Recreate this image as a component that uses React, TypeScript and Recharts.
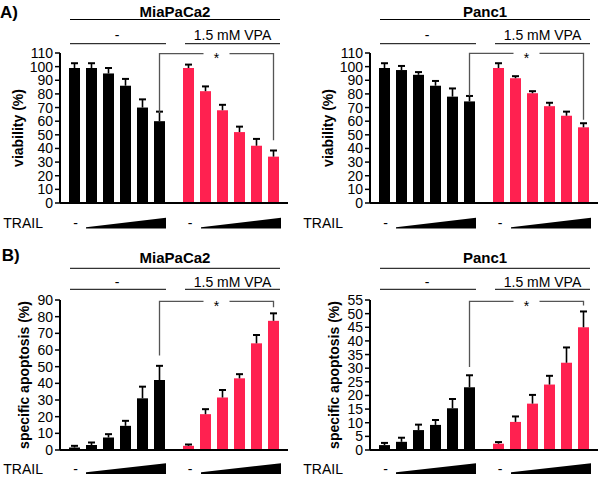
import React from 'react';
import { BarChart, Bar, XAxis, YAxis } from 'recharts';

// ---------- data ----------
const groups = ['-', '1.5 mM VPA'];
const doseIdx = [0, 1, 2, 3, 4, 5];

const miaViabilityCtrl = [99, 99, 95, 86, 70, 60];
const miaViabilityCtrlErr = [3.5, 3.5, 4, 5, 6, 7];
const miaViabilityVpa = [99, 82, 68, 52, 42, 34];
const miaViabilityVpaErr = [2.5, 3.5, 4, 4, 5, 4.5];

const pancViabilityCtrl = [99, 97.5, 94, 86, 78, 74.5];
const pancViabilityCtrlErr = [3.5, 3, 2, 3.5, 6, 4];
const pancViabilityVpa = [99, 91.5, 80.5, 71, 64, 55.5];
const pancViabilityVpaErr = [3.5, 1.5, 1.5, 2.5, 3, 3];

const miaApoptosisCtrl = [1.5, 3, 7.5, 14.5, 31, 42];
const miaApoptosisCtrlErr = [1, 1.5, 2, 3, 7, 8.5];
const miaApoptosisVpa = [2.5, 21.5, 31.5, 43, 64, 77.5];
const miaApoptosisVpaErr = [0.8, 3, 4.5, 2.5, 5, 4.5];

const pancApoptosisCtrl = [1.8, 3, 7.3, 9.2, 15.3, 23];
const pancApoptosisCtrlErr = [0.8, 1.5, 2, 1.8, 3.4, 4.4];
const pancApoptosisVpa = [2.3, 10.3, 17, 24, 32, 45];
const pancApoptosisVpaErr = [0.6, 2, 3.2, 3.2, 5.6, 5.8];

const viabilityTicks = [0, 10, 20, 30, 40, 50, 60, 70, 80, 90, 100, 110];
const miaApoptosisTicks = [0, 10, 20, 30, 40, 50, 60, 70, 80, 90];
const pancApoptosisTicks = [0, 5, 10, 15, 20, 25, 30, 35, 40, 45, 50, 55];

// significance bracket: [horizontal level, left end, right end]
const miaViabilityBracket = [109.5, 66, 46];
const pancViabilityBracket = [109.7, 78.7, 61];
const miaApoptosisBracket = [89.2, 56.7, 85.6];
const pancApoptosisBracket = [54.5, 30.4, 53];

// ---------- style ----------
const RED = '#ff2150';
const FONT = '"Liberation Sans", Arial, sans-serif';
const CH_W = 290;
const CH_H = 240;
const PLOT_L = 60;
const PLOT_R = 288;
const PLOT_T = 53;
const PLOT_B = 203;
const CAT_GAP = 9;
const BAR_GAP = 6;
const BAR_SIZE = (((PLOT_R - PLOT_L) / 2 - 2 * CAT_GAP - 5 * BAR_GAP) / 6) | 0;

function buildRows(ctrl: number[], ctrlErr: number[], vpa: number[], vpaErr: number[]) {
  return groups.map((g, gi) => {
    const row: any = { group: g, gi };
    const vals = gi === 0 ? ctrl : vpa;
    const errs = gi === 0 ? ctrlErr : vpaErr;
    doseIdx.forEach((i) => {
      row['v' + i] = vals[i];
      row['e' + i] = errs[i];
    });
    return row;
  });
}

const makeShape = (i: number) => (props: any) => {
  const { x, y, width, height, payload } = props;
  const value = payload['v' + i];
  const err = payload['e' + i];
  const ppu = value ? height / value : 0;
  const errPx = err * ppu;
  const cx = x + width / 2;
  const fill = payload.gi === 0 ? '#000' : RED;
  return (
    <g>
      <rect x={x} y={y} width={width} height={height} fill={fill} />
      <line x1={cx} x2={cx} y1={y} y2={y - errPx} stroke="#000" strokeWidth={1.6} />
      <line x1={cx - 3.5} x2={cx + 3.5} y1={y - errPx} y2={y - errPx} stroke="#000" strokeWidth={2} />
    </g>
  );
};

const rowA = { titleY: 11, titleLineY: 19.5, subY: 34.5, subLineY: 43.7, trailY: 222.7, tip: 227.3, wTop: 217.7, wBot: 228.5 };
const rowB = { titleY: 10.5, titleLineY: 21.3, subY: 34.7, subLineY: 42.3, trailY: 221.7, tip: 225.3, wTop: 216.3, wBot: 227 };

const panels = [
  { key: 'am', ox: 0, oy: 0, title: 'MiaPaCa2', yLabel: 'viability (%)', yLabelX: 18, ticks: viabilityTicks,
    rows: buildRows(miaViabilityCtrl, miaViabilityCtrlErr, miaViabilityVpa, miaViabilityVpaErr), bracket: miaViabilityBracket, lay: rowA },
  { key: 'ap', ox: 310, oy: 0, title: 'Panc1', yLabel: 'viability (%)', yLabelX: 18, ticks: viabilityTicks,
    rows: buildRows(pancViabilityCtrl, pancViabilityCtrlErr, pancViabilityVpa, pancViabilityVpaErr), bracket: pancViabilityBracket, lay: rowA },
  { key: 'bm', ox: 0, oy: 247, title: 'MiaPaCa2', yLabel: 'specific apoptosis (%)', yLabelX: 24, ticks: miaApoptosisTicks,
    rows: buildRows(miaApoptosisCtrl, miaApoptosisCtrlErr, miaApoptosisVpa, miaApoptosisVpaErr), bracket: miaApoptosisBracket, lay: rowB },
  { key: 'bp', ox: 310, oy: 247, title: 'Panc1', yLabel: 'specific apoptosis (%)', yLabelX: 24, ticks: pancApoptosisTicks,
    rows: buildRows(pancApoptosisCtrl, pancApoptosisCtrlErr, pancApoptosisVpa, pancApoptosisVpaErr), bracket: pancApoptosisBracket, lay: rowB },
];

function barCenter(g: number, i: number) {
  const band = (PLOT_R - PLOT_L) / 2;
  return PLOT_L + g * band + CAT_GAP + i * (BAR_SIZE + BAR_GAP) + BAR_SIZE / 2;
}

function PanelOverlay({ p }: { p: any }) {
  const yMax = p.ticks[p.ticks.length - 1];
  const yPix = (v: number) => PLOT_B - (v / yMax) * (PLOT_B - PLOT_T);
  const L = p.lay;
  const [bTop, bLeft, bRight] = p.bracket;
  const xl = barCenter(0, 5);
  const xr = barCenter(1, 5);
  const xm = (xl + xr) / 2;
  const yb = yPix(bTop);
  const gap = 13;
  return (
    <g transform={`translate(${p.ox},${p.oy})`}>
      <text x={175} y={L.titleY} textAnchor="middle" dominantBaseline="central" fontWeight="bold" fontSize={15}>{p.title}</text>
      <line x1={70} x2={280} y1={L.titleLineY} y2={L.titleLineY} stroke="#000" strokeWidth={1} />
      <text x={117} y={L.subY} textAnchor="middle" dominantBaseline="central" fontSize={14}>-</text>
      <text x={232.5} y={L.subY} textAnchor="middle" dominantBaseline="central" fontSize={14}>1.5 mM VPA</text>
      <line x1={70} x2={166} y1={L.subLineY} y2={L.subLineY} stroke="#000" strokeWidth={1} />
      <line x1={185} x2={280} y1={L.subLineY} y2={L.subLineY} stroke="#000" strokeWidth={1} />
      <text transform={`translate(${p.yLabelX},${(PLOT_T + PLOT_B) / 2}) rotate(-90)`} textAnchor="middle" dominantBaseline="central" fontWeight="bold" fontSize={14}>{p.yLabel}</text>
      {/* significance bracket */}
      <polyline points={`${xl},${yPix(bLeft)} ${xl},${yb} ${xm - gap},${yb}`} fill="none" stroke="#555" strokeWidth={1.3} />
      <polyline points={`${xm + gap},${yb} ${xr},${yb} ${xr},${yPix(bRight)}`} fill="none" stroke="#555" strokeWidth={1.3} />
      <text x={xm} y={yb + 9.5} textAnchor="middle" fontSize={14}>*</text>
      {/* TRAIL row */}
      <text x={p.ox === 0 ? 3.3 : -6.7} y={L.trailY} dominantBaseline="central" fontSize={14}>TRAIL</text>
      <text x={75.5} y={L.trailY} textAnchor="middle" dominantBaseline="central" fontSize={14}>-</text>
      <text x={190} y={L.trailY} textAnchor="middle" dominantBaseline="central" fontSize={14}>-</text>
      <polygon points={`86,${L.tip} 166,${L.wTop} 166,${L.wBot} 86,${L.wBot}`} fill="#000" />
      <polygon points={`201,${L.tip} 281,${L.wTop} 281,${L.wBot} 201,${L.wBot}`} fill="#000" />
    </g>
  );
}

function Panel({ p }: { p: any }) {
  const yMax = p.ticks[p.ticks.length - 1];
  return (
    <div style={{ position: 'absolute', left: p.ox, top: p.oy, width: CH_W, height: CH_H }}>
      <BarChart
        width={CH_W}
        height={CH_H}
        data={p.rows}
        margin={{ top: PLOT_T, right: CH_W - PLOT_R, bottom: 0, left: 0 }}
        barCategoryGap={CAT_GAP}
        barGap={BAR_GAP}
      >
        <XAxis
          dataKey="group"
          height={CH_H - PLOT_B}
          tick={false}
          tickSize={4}
          axisLine={{ stroke: '#000', strokeWidth: 2 }}
          tickLine={{ stroke: '#000', strokeWidth: 1.5 }}
        />
        <YAxis
          type="number"
          domain={[0, yMax]}
          ticks={p.ticks}
          interval={0}
          width={PLOT_L}
          tickSize={5}
          tickMargin={2}
          axisLine={{ stroke: '#000', strokeWidth: 2 }}
          tickLine={{ stroke: '#000', strokeWidth: 1.5 }}
          tick={{ fill: '#000', fontSize: 14, fontFamily: FONT }}
        />
        {doseIdx.map((i) => (
          <Bar key={i} dataKey={'v' + i} isAnimationActive={false} shape={makeShape(i)} />
        ))}
      </BarChart>
    </div>
  );
}

export default function App() {
  return (
    <div style={{ position: 'absolute', left: 0, top: 0, width: 600, height: 480, overflow: 'hidden', background: '#fff', fontFamily: FONT }}>
      {panels.map((p) => (
        <Panel key={p.key} p={p} />
      ))}
      <svg width={600} height={480} style={{ position: 'absolute', left: 0, top: 0, pointerEvents: 'none', fontFamily: FONT }}>
        <text x={0} y={12.5} dominantBaseline="central" fontWeight="bold" fontSize={17}>A)</text>
        <text x={1.7} y={255} dominantBaseline="central" fontWeight="bold" fontSize={17}>B)</text>
        {panels.map((p) => (
          <PanelOverlay key={p.key} p={p} />
        ))}
      </svg>
    </div>
  );
}
